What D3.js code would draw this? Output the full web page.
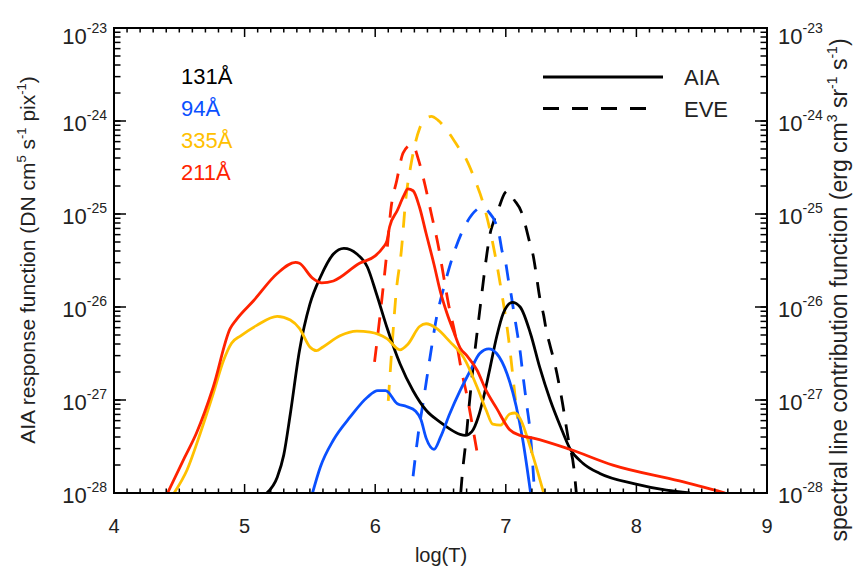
<!DOCTYPE html>
<html>
<head>
<meta charset="utf-8">
<script src="https://cdn.jsdelivr.net/npm/d3@7"></script>
<style>
body { margin: 0; background: #fff; }
svg text { font-family: "Liberation Sans", Arial, Helvetica, sans-serif; fill: #222; }
</style>
</head>
<body>
<div id="chart"></div>
<script>
/*
 * Curves: [log(T), log10(value)].
 * Solid = AIA response function, dashed = EVE line contribution function.
 */
var aia131 = [[5.17,-28.00],[5.25,-27.83],[5.30,-27.59],[5.35,-27.15],[5.42,-26.47],[5.50,-25.97],[5.58,-25.68],[5.68,-25.43],[5.76,-25.37],[5.86,-25.43],[5.94,-25.57],[6.01,-25.86],[6.09,-26.22],[6.19,-26.61],[6.29,-26.90],[6.39,-27.11],[6.50,-27.24],[6.57,-27.31],[6.65,-27.37],[6.69,-27.38],[6.74,-27.34],[6.79,-27.18],[6.83,-26.97],[6.88,-26.65],[6.93,-26.32],[6.98,-26.07],[7.05,-25.95],[7.11,-26.00],[7.19,-26.29],[7.26,-26.65],[7.34,-27.00],[7.42,-27.29],[7.49,-27.52],[7.59,-27.68],[7.72,-27.79],[7.98,-27.90],[8.23,-27.97],[8.41,-28.00]];
var aia94 = [[5.52,-28.00],[5.58,-27.72],[5.68,-27.43],[5.81,-27.18],[5.94,-26.97],[6.02,-26.90],[6.08,-26.90],[6.17,-27.04],[6.24,-27.07],[6.31,-27.12],[6.35,-27.21],[6.39,-27.41],[6.45,-27.53],[6.50,-27.40],[6.57,-27.15],[6.65,-26.90],[6.73,-26.68],[6.80,-26.50],[6.87,-26.45],[6.93,-26.50],[7.01,-26.72],[7.08,-27.07],[7.13,-27.43],[7.19,-28.00]];
var aia335 = [[4.46,-28.00],[4.56,-27.75],[4.66,-27.36],[4.76,-26.93],[4.84,-26.57],[4.90,-26.39],[4.97,-26.31],[5.09,-26.20],[5.25,-26.10],[5.35,-26.14],[5.42,-26.23],[5.50,-26.43],[5.55,-26.47],[5.60,-26.43],[5.73,-26.31],[5.86,-26.26],[5.96,-26.27],[6.09,-26.34],[6.19,-26.46],[6.25,-26.40],[6.34,-26.21],[6.39,-26.18],[6.47,-26.23],[6.57,-26.37],[6.68,-26.55],[6.78,-26.86],[6.85,-27.11],[6.90,-27.26],[6.96,-27.27],[7.03,-27.15],[7.07,-27.14],[7.11,-27.20],[7.19,-27.52],[7.29,-28.00]];
var aia211 = [[4.41,-28.00],[4.54,-27.62],[4.63,-27.36],[4.76,-26.86],[4.89,-26.23],[4.94,-26.13],[5.07,-25.93],[5.25,-25.64],[5.39,-25.52],[5.42,-25.53],[5.52,-25.69],[5.59,-25.74],[5.68,-25.72],[5.88,-25.53],[6.00,-25.45],[6.06,-25.36],[6.09,-25.29],[6.11,-25.14],[6.17,-24.96],[6.22,-24.80],[6.25,-24.73],[6.29,-24.75],[6.34,-24.93],[6.39,-25.21],[6.45,-25.54],[6.50,-25.84],[6.55,-26.07],[6.60,-26.26],[6.65,-26.44],[6.70,-26.52],[6.78,-26.68],[6.85,-26.90],[6.93,-27.09],[7.03,-27.32],[7.11,-27.38],[7.21,-27.41],[7.49,-27.53],[7.82,-27.70],[8.33,-27.87],[8.68,-28.00]];

var eve131 = [[6.655,-28.00],[6.67,-27.75],[6.69,-27.50],[6.72,-27.05],[6.75,-26.64],[6.785,-26.22],[6.81,-25.93],[6.83,-25.70],[6.855,-25.43],[6.88,-25.21],[6.905,-25.09],[6.94,-24.96],[6.995,-24.77],[7.02,-24.75],[7.06,-24.84],[7.12,-24.98],[7.15,-25.12],[7.18,-25.29],[7.21,-25.45],[7.23,-25.62],[7.26,-25.90],[7.29,-26.09],[7.31,-26.25],[7.34,-26.42],[7.38,-26.64],[7.43,-27.00],[7.48,-27.43],[7.52,-27.72],[7.54,-28.00]];
var eve94 = [[6.29,-27.82],[6.33,-27.36],[6.37,-27.00],[6.42,-26.54],[6.47,-26.11],[6.52,-25.82],[6.60,-25.43],[6.69,-25.12],[6.78,-24.95],[6.82,-24.92],[6.87,-24.98],[6.92,-25.09],[6.95,-25.23],[6.97,-25.39],[7.00,-25.53],[7.02,-25.71],[7.04,-25.86],[7.06,-26.04],[7.09,-26.30],[7.11,-26.48],[7.13,-26.72],[7.16,-27.05],[7.185,-27.32],[7.20,-27.57],[7.22,-28.00]];
var eve335 = [[6.10,-27.01],[6.13,-26.40],[6.16,-25.85],[6.20,-25.40],[6.235,-24.83],[6.27,-24.50],[6.30,-24.28],[6.34,-24.08],[6.38,-23.98],[6.43,-23.95],[6.48,-23.99],[6.56,-24.12],[6.64,-24.29],[6.70,-24.42],[6.76,-24.62],[6.83,-24.90],[6.88,-25.18],[6.93,-25.53],[6.97,-25.86],[7.01,-26.22],[7.035,-26.50],[7.06,-26.82],[7.09,-27.20]];
var eve211 = [[5.995,-26.59],[6.05,-25.93],[6.09,-25.40],[6.12,-24.95],[6.165,-24.64],[6.215,-24.34],[6.285,-24.25],[6.33,-24.41],[6.38,-24.68],[6.43,-25.00],[6.48,-25.32],[6.53,-25.72],[6.56,-25.96],[6.61,-26.28],[6.66,-26.68],[6.705,-26.97],[6.75,-27.32],[6.79,-27.64]];

/*
 * Channels, axis ranges and legend texts.
 */
var channels = ['131Å', '94Å', '335Å', '211Å'];
var channelColors = ['#000000', '#0a50ff', '#ffc000', '#ff2200'];
var aiaSeries = [aia131, aia94, aia335, aia211];
var eveSeries = [eve131, eve94, eve335, eve211];
var styleLabels = ['AIA', 'EVE'];
var xDomain = [4, 9];
var yDomain = [1e-28, 1e-23];
var yDecadeExponents = [-28, -27, -26, -25, -24, -23];


/**
 * Response function chart.
 * @class
 */
function ResponseChart() {
    /*
     * Plot frame in page pixels.
     */
    this._frame = {left: 114, right: 767, top: 28, bottom: 493};
    this._xScale = d3.scaleLinear().domain(xDomain)
        .range([this._frame.left, this._frame.right]);
    this._yScale = d3.scaleLog().domain(yDomain)
        .range([this._frame.bottom, this._frame.top]);
    var self = this;
    this._line = d3.line()
        .x(function(d) { return self._xScale(d[0]); })
        .y(function(d) { return self._yScale(Math.pow(10, d[1])); })
        .curve(d3.curveMonotoneX);
}


/**
 * Render chart.
 * @param {String} selection
 */
ResponseChart.prototype.renderTo = function(selection) {

    this._svg = d3.select(selection).append('svg')
        .attr('width', 854)
        .attr('height', 578);

    this._drawCurves();
    this._drawAxes();
    this._drawTitles();
    this._drawLegend();

    return this;
};


/**
 * Draw solid and dashed curves.
 */
ResponseChart.prototype._drawCurves = function() {

    var f = this._frame;
    this._svg.append('clipPath').attr('id', 'plot-clip')
        .append('rect')
        .attr('x', f.left).attr('y', f.top)
        .attr('width', f.right - f.left).attr('height', f.bottom - f.top);

    var g = this._svg.append('g').attr('clip-path', 'url(#plot-clip)');

    g.selectAll('path.eve').data(eveSeries).enter().append('path')
        .attr('class', 'eve')
        .attr('d', this._line)
        .attr('fill', 'none')
        .attr('stroke', function(d, i) { return channelColors[i]; })
        .attr('stroke-width', 2.8)
        .attr('stroke-dasharray', '16,13');

    g.selectAll('path.aia').data(aiaSeries).enter().append('path')
        .attr('class', 'aia')
        .attr('d', this._line)
        .attr('fill', 'none')
        .attr('stroke', function(d, i) { return channelColors[i]; })
        .attr('stroke-width', 2.8)
        .attr('stroke-linejoin', 'round');
};


/**
 * Draw frame, inward ticks and labels.
 */
ResponseChart.prototype._drawAxes = function() {

    var f = this._frame, x = this._xScale, y = this._yScale;
    var svg = this._svg;

    svg.append('rect')
        .attr('x', f.left).attr('y', f.top)
        .attr('width', f.right - f.left).attr('height', f.bottom - f.top)
        .attr('fill', 'none').attr('stroke', '#000').attr('stroke-width', 2);

    var ticks = svg.append('g').attr('stroke', '#000').attr('stroke-width', 1.5);
    /*
     * X ticks, every 0.1, major at integers (bottom and top).
     */
    x.ticks(50).forEach(function(t) {
        var major = Math.abs(t - Math.round(t)) < 1e-6;
        var len = major ? 9 : 4.5;
        ticks.append('line').attr('x1', x(t)).attr('x2', x(t))
            .attr('y1', f.bottom).attr('y2', f.bottom - len);
        ticks.append('line').attr('x1', x(t)).attr('x2', x(t))
            .attr('y1', f.top).attr('y2', f.top + len);
    });
    /*
     * Y ticks on both sides: minor from the log scale, major at decades.
     */
    y.ticks().forEach(function(t) {
        ticks.append('line').attr('y1', y(t)).attr('y2', y(t))
            .attr('x1', f.left).attr('x2', f.left + 6.5);
        ticks.append('line').attr('y1', y(t)).attr('y2', y(t))
            .attr('x1', f.right).attr('x2', f.right - 6.5);
    });
    yDecadeExponents.forEach(function(e) {
        var yy = y(Math.pow(10, e));
        ticks.append('line').attr('y1', yy).attr('y2', yy)
            .attr('x1', f.left).attr('x2', f.left + 12);
        ticks.append('line').attr('y1', yy).attr('y2', yy)
            .attr('x1', f.right).attr('x2', f.right - 12);
    });

    /*
     * X labels.
     */
    svg.selectAll('text.xtick').data(x.ticks(5)).enter().append('text')
        .attr('class', 'xtick')
        .attr('x', function(d) { return x(d); })
        .attr('y', 533)
        .attr('text-anchor', 'middle')
        .style('font-size', '20px')
        .text(function(d) { return d; });

    /*
     * Y labels as 10 with exponent; the top one sits a little lower.
     */
    [[f.left - 7, 'end'], [f.right + 11, 'start']].forEach(function(side) {
        yDecadeExponents.forEach(function(e, i) {
            var shift = i === yDecadeExponents.length - 1 ? 6 : 0;
            var txt = svg.append('text')
                .attr('x', side[0])
                .attr('y', y(Math.pow(10, e)) + 10 + shift)
                .attr('text-anchor', side[1])
                .style('font-size', '22px');
            txt.append('tspan').text('10');
            txt.append('tspan').attr('dy', -11).style('font-size', '14px')
                .text(e);
        });
    });
};


/**
 * Append text with superscript parts: [[text, isSup], ...].
 */
ResponseChart.prototype._richText = function(node, parts, size) {

    var supSize = Math.round(size * 0.62);
    var up = false;
    parts.forEach(function(p) {
        var s = node.append('tspan').text(p[0]);
        if (p[1] && !up) { s.attr('dy', -size * 0.45).style('font-size', supSize + 'px'); up = true; }
        else if (p[1]) { s.style('font-size', supSize + 'px'); }
        else if (up) { s.attr('dy', size * 0.45); up = false; }
    });
};


/**
 * Draw axis titles.
 */
ResponseChart.prototype._drawTitles = function() {

    this._svg.append('text')
        .attr('x', 441).attr('y', 562)
        .attr('text-anchor', 'middle')
        .style('font-size', '20px')
        .text('log(T)');

    var left = this._svg.append('text')
        .attr('transform', 'translate(35,260) rotate(-90)')
        .attr('text-anchor', 'middle')
        .style('font-size', '21px');
    this._richText(left, [['AIA response function (DN cm'], ['5', 1], [' s'], ['-1', 1],
        [' pix'], ['-1', 1], [')']], 21);

    var right = this._svg.append('text')
        .attr('transform', 'translate(847,290) rotate(-90)')
        .attr('text-anchor', 'middle')
        .style('font-size', '23px');
    this._richText(right, [['spectral line contribution function (erg cm'], ['3', 1], [' sr'],
        ['-1', 1], [' s'], ['-1', 1], [')']], 23);
};


/**
 * Draw channel and instrument legends.
 */
ResponseChart.prototype._drawLegend = function() {

    this._svg.selectAll('text.channel').data(channels).enter().append('text')
        .attr('class', 'channel')
        .attr('x', 181)
        .attr('y', function(d, i) { return 84 + i * 32; })
        .style('font-size', '22px')
        .style('fill', function(d, i) { return channelColors[i]; })
        .text(function(d) { return d; });

    var rows = this._svg.selectAll('g.style').data(styleLabels).enter().append('g')
        .attr('class', 'style')
        .attr('transform', function(d, i) { return 'translate(0,' + (77 + i * 31.5) + ')'; });
    rows.append('line')
        .attr('x1', 543)
        .attr('x2', function(d, i) { return i ? 649 : 663; })
        .attr('stroke', '#000').attr('stroke-width', 2.8)
        .attr('stroke-dasharray', function(d, i) { return i ? '16,13' : null; });
    rows.append('text')
        .attr('x', 684).attr('y', 8)
        .style('font-size', '22px')
        .text(function(d) { return d; });
};


new ResponseChart().renderTo('#chart');
</script>
</body>
</html>
